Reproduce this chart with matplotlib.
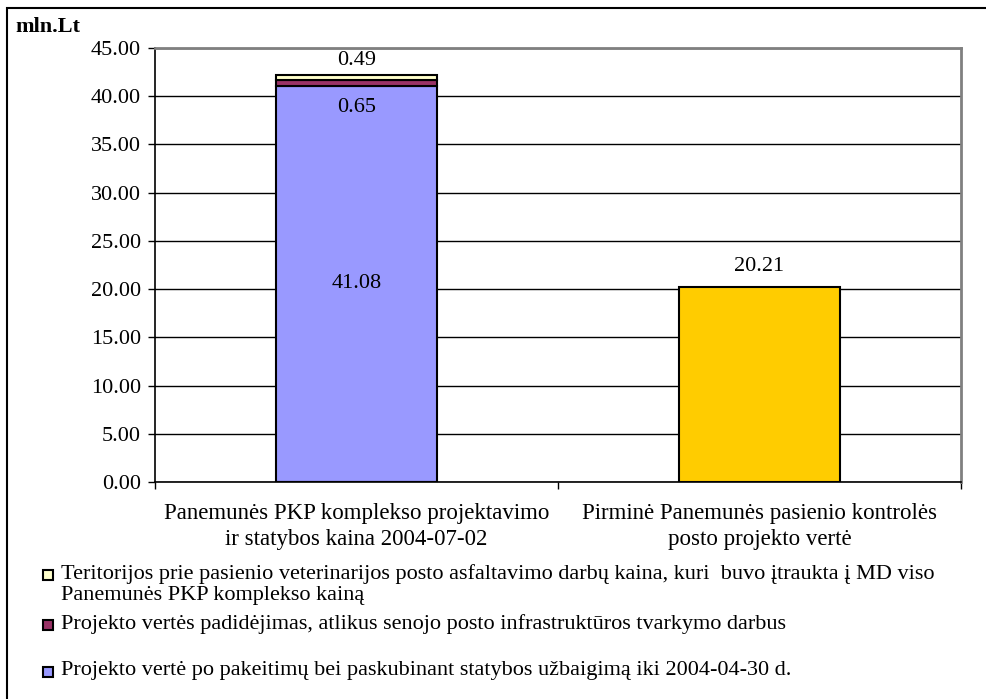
import matplotlib.pyplot as plt
from matplotlib.patches import Rectangle

plt.rcParams['font.family'] = ['Liberation Serif', 'DejaVu Serif']

categories = ["Panemunės PKP komplekso projektavimo\nir statybos kaina 2004-07-02",
              "Pirminė Panemunės pasienio kontrolės\nposto projekto vertė"]
base_vals = [41.08, 0.0]
increase_vals = [0.65, 0.0]
asphalt_vals = [0.49, 0.0]
initial_vals = [0.0, 20.21]
legend_labels = [
    "Teritorijos prie pasienio veterinarijos posto asfaltavimo darbų kaina, kuri  buvo įtraukta į MD viso\nPanemunės PKP komplekso kainą",
    "Projekto vertės padidėjimas, atlikus senojo posto infrastruktūros tvarkymo darbus",
    "Projekto vertė po pakeitimų bei paskubinant statybos užbaigimą iki 2004-04-30 d.",
]
yticks = [0, 5, 10, 15, 20, 25, 30, 35, 40, 45]

W, H = 987, 699
fig = plt.figure(figsize=(W / 100, H / 100), dpi=100)

# outer chart frame (cut off on right/bottom like the screenshot)
fig.patches.append(Rectangle((7 / W, -0.1), 1.2, 1 - 8 / H + 0.1, transform=fig.transFigure,
                             fill=False, edgecolor='black', linewidth=1.5))

ax = fig.add_axes([155 / W, (H - 482) / H, (961 - 155) / W, (482 - 48) / H])
x = [0, 1]
w = 0.4
ax.bar(x, base_vals, w, color='#9999FF', edgecolor='black', linewidth=1.5, zorder=3)
ax.bar(x, increase_vals, w, bottom=base_vals, color='#993366', edgecolor='black', linewidth=1.5, zorder=3)
bot2 = [a + b for a, b in zip(base_vals, increase_vals)]
ax.bar(x, asphalt_vals, w, bottom=bot2, color='#FFFFCC', edgecolor='black', linewidth=1.5, zorder=3)
ax.bar(x, initial_vals, w, color='#FFCC00', edgecolor='black', linewidth=1.5, zorder=3)

ax.set_xlim(-0.5, 1.5)
ax.set_ylim(0, 45)
ax.set_yticks(yticks)
ax.set_yticklabels([f"{v:.2f}" for v in yticks], fontsize=16)
ax.yaxis.grid(True, color='black', linewidth=1)
ax.set_axisbelow(True)
ax.tick_params(axis='y', length=5, width=1, pad=5)

ax.set_xticks(x)
ax.set_xticklabels(categories, fontsize=16.5, linespacing=1.35)
ax.set_xticks([-0.5, 0.5, 1.5], minor=True)
ax.tick_params(axis='x', which='major', length=0, pad=15)
ax.tick_params(axis='x', which='minor', length=5, width=1)

for s in ['top', 'right']:
    ax.spines[s].set_color('#808080')
    ax.spines[s].set_linewidth(2)
for s in ['left', 'bottom']:
    ax.spines[s].set_linewidth(1.2)

# data labels
fs = 16
ax.annotate(f"{base_vals[0]:.2f}", (x[0], base_vals[0] / 2), ha='center', va='center', fontsize=fs)
ax.annotate(f"{increase_vals[0]:.2f}", (x[0], base_vals[0] + increase_vals[0] / 2),
            xytext=(0, -18), textcoords='offset points', ha='center', va='center', fontsize=fs)
ax.annotate(f"{asphalt_vals[0]:.2f}", (x[0], bot2[0] + asphalt_vals[0] / 2),
            xytext=(0, 12), textcoords='offset points', ha='center', va='center', fontsize=fs)
ax.annotate(f"{initial_vals[1]:.2f}", (x[1], initial_vals[1]),
            xytext=(0, 15), textcoords='offset points', ha='center', va='center', fontsize=fs)

fig.text(15 / W, 1 - 27 / H, "mln.Lt", fontsize=16, fontweight='bold', va='center', ha='left')

# legend (drawn by hand so the box sits on the first text line)
leg_colors = ['#FFFFCC', '#993366', '#9999FF']
leg_y = [575, 625, 672]
for lab, col, yy in zip(legend_labels, leg_colors, leg_y):
    fig.patches.append(Rectangle((43 / W, 1 - (yy + 5) / H), 10 / W, 10 / H, transform=fig.transFigure,
                                 facecolor=col, edgecolor='black', linewidth=1.5))
    fig.text(61 / W, 1 - (yy - 11) / H, lab, fontsize=16, va='top', ha='left', linespacing=1.12)

fig.savefig("out.png", dpi=100)
